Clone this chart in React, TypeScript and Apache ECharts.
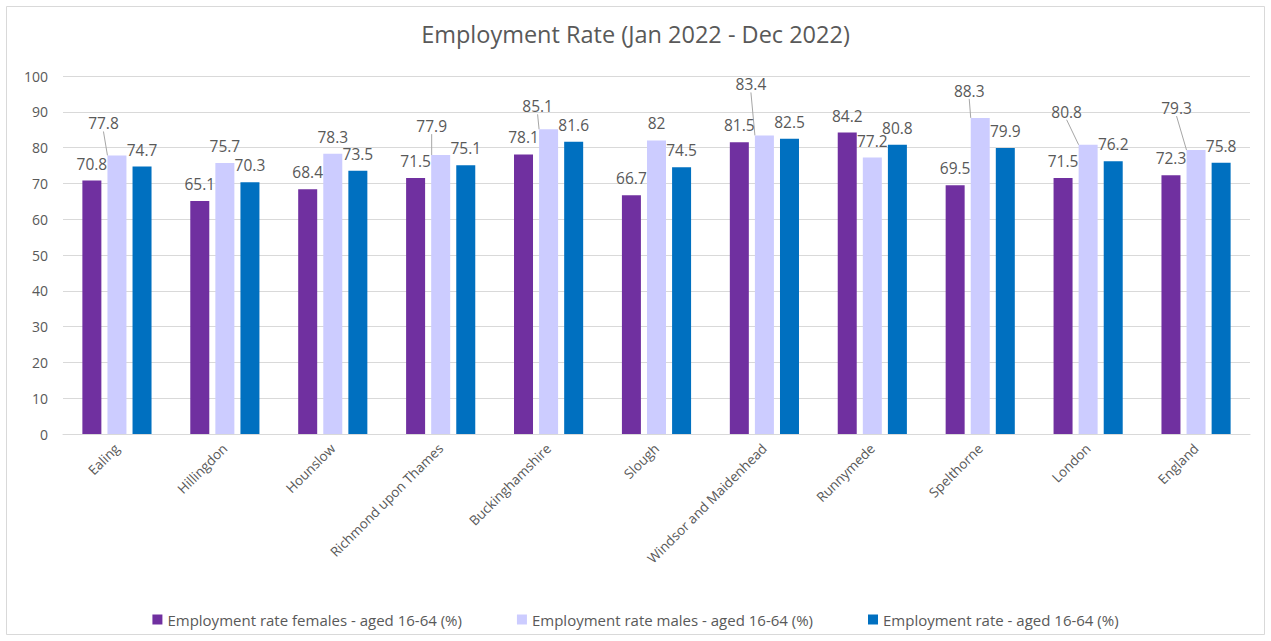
import React, { useEffect, useRef } from "react";
import * as echarts from "echarts";

const categories = [
  "Ealing",
  "Hillingdon",
  "Hounslow",
  "Richmond upon Thames",
  "Buckinghamshire",
  "Slough",
  "Windsor and Maidenhead",
  "Runnymede",
  "Spelthorne",
  "London",
  "England",
];
const females = [70.8, 65.1, 68.4, 71.5, 78.1, 66.7, 81.5, 84.2, 69.5, 71.5, 72.3];
const males = [77.8, 75.7, 78.3, 77.9, 85.1, 82, 83.4, 77.2, 88.3, 80.8, 79.3];
const total = [74.7, 70.3, 73.5, 75.1, 81.6, 74.5, 82.5, 80.8, 79.9, 76.2, 75.8];

const seriesNames = [
  "Employment rate females - aged 16-64 (%)",
  "Employment rate males - aged 16-64 (%)",
  "Employment rate - aged 16-64 (%)",
];
const yTicks = { min: 0, max: 100, interval: 10 };

// label call-out offsets (Excel moved these labels), styling only
const maleLabelDx = [-13.5, 0, 0, -9, -11, 0, -13.5, 0, -11, -21.5, -19.5];
const maleLabelLift = [15, 0, 0, 12, 6, 0, 34, 0, 10, 16, 25];

const FONT = "'Open Sans', 'Noto Sans', sans-serif";
const TXT = "#595959";

export default function App() {
  const ref = useRef<HTMLDivElement>(null);
  useEffect(() => {
    if (!ref.current) return;
    const chart = echarts.init(ref.current, null, { renderer: "svg" });
    const baseLabel = {
      show: true,
      position: "top",
      distance: 9,
      color: TXT,
      fontSize: 15.5,
      fontFamily: FONT,
    };
    chart.setOption({
      animation: false,
      backgroundColor: "#ffffff",
      textStyle: { fontFamily: FONT },
      title: {
        text: "Employment Rate (Jan 2022 - Dec 2022)",
        left: "center",
        top: 17,
        textStyle: { color: TXT, fontSize: 23.5, fontWeight: "normal", fontFamily: FONT },
      },
      graphic: [
        {
          type: "rect",
          shape: { x: 6.5, y: 6.5, width: 1258, height: 628 },
          style: { fill: "none", stroke: "#D9D9D9", lineWidth: 1 },
          silent: true,
        },
      ],
      legend: {
        data: seriesNames,
        left: "center",
        top: 607,
        icon: "rect",
        itemWidth: 10,
        itemHeight: 10,
        itemGap: 55,
        textStyle: { color: TXT, fontSize: 15, fontFamily: FONT },
      },
      grid: { left: 63, right: 21, top: 76, bottom: 207 },
      xAxis: {
        type: "category",
        data: categories,
        axisLine: { lineStyle: { color: "#D9D9D9", width: 1 } },
        axisTick: { show: false },
        axisLabel: {
          rotate: 45,
          interval: 0,
          margin: 12,
          color: TXT,
          fontSize: 13.5,
          fontFamily: FONT,
        },
      },
      yAxis: {
        type: "value",
        min: yTicks.min,
        max: yTicks.max,
        interval: yTicks.interval,
        axisLine: { show: false },
        axisTick: { show: false },
        splitLine: { lineStyle: { color: "#D9D9D9", width: 1 } },
        axisLabel: { color: TXT, fontSize: 14, margin: 15, fontFamily: FONT },
      },
      series: [
        {
          name: seriesNames[0],
          type: "bar",
          data: females,
          barWidth: 19,
          barGap: "32%",
          itemStyle: { color: "#7030A0" },
          label: baseLabel,
        },
        {
          name: seriesNames[1],
          type: "bar",
          data: males.map((v, i) => ({
            value: v,
            labelLine: { show: maleLabelLift[i] > 0 },
          })),
          barWidth: 19,
          barGap: "32%",
          itemStyle: { color: "#CCCCFF" },
          label: baseLabel,
          labelLine: { show: true, lineStyle: { color: "#A6A6A6", width: 1 } },
          labelLayout: (p: any) => {
            const i = p.dataIndex;
            const dx = maleLabelDx[i];
            const dy = -maleLabelLift[i];
            if (!maleLabelLift[i]) return { dx: 0, dy: 0 };
            const lr = p.labelRect;
            const r = p.rect;
            return {
              dx,
              dy,
              labelLinePoints: [
                [lr.x + lr.width / 2 + dx, lr.y + lr.height + dy + 1],
                [r.x + r.width / 2, r.y],
              ],
            };
          },
        },
        {
          name: seriesNames[2],
          type: "bar",
          data: total,
          barWidth: 19,
          barGap: "32%",
          itemStyle: { color: "#0070C0" },
          label: baseLabel,
        },
      ],
    });
    return () => chart.dispose();
  }, []);
  return (
    <div
      ref={ref}
      style={{ position: "fixed", left: 0, top: 0, width: 1271, height: 641 }}
    />
  );
}
